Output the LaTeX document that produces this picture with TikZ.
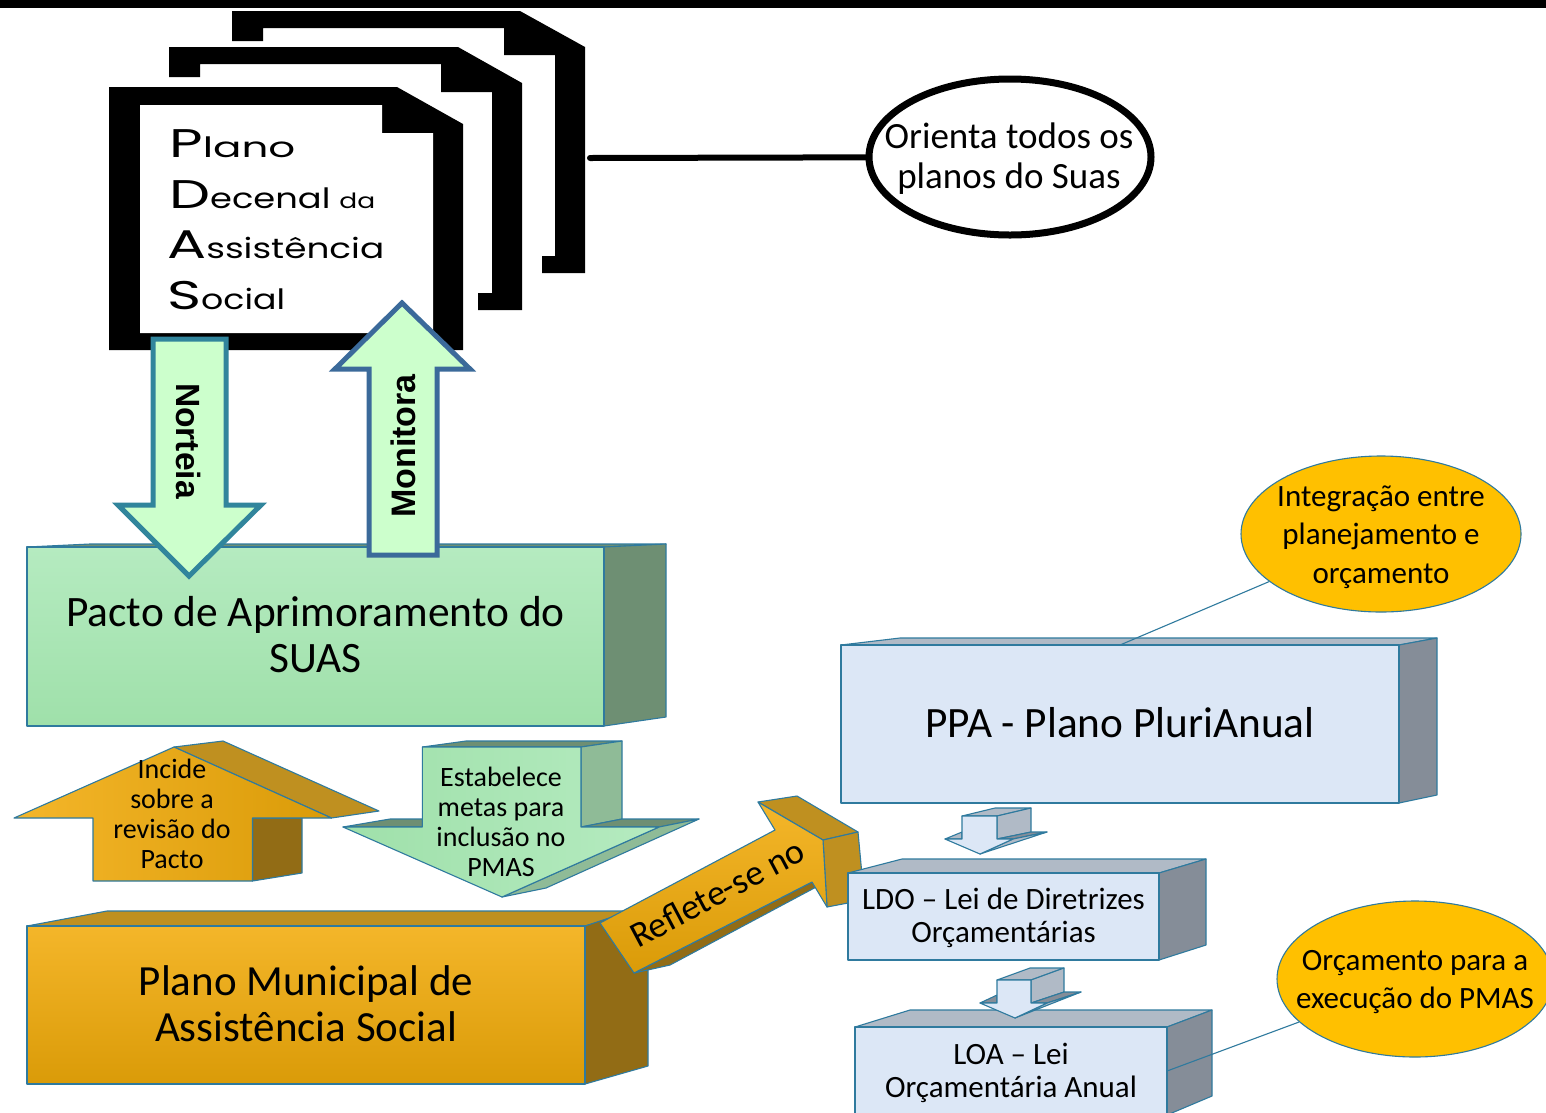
\documentclass[tikz,border=0pt]{standalone}
\usepackage{fontspec}
\usepackage{graphicx}
\setmainfont{Carlito}
\newfontfamily\docfont{Poppins}
\newfontfamily\armfont{Liberation Sans}
\usetikzlibrary{shapes.geometric}
\definecolor{edgeblue}{HTML}{2F7A9E}
\definecolor{armfill}{HTML}{CCFFCC}
\definecolor{armteal}{HTML}{31859C}
\definecolor{armblue}{HTML}{3B6A9A}
\definecolor{orangeT}{HTML}{F4B62A}
\definecolor{orangeB}{HTML}{DA9B08}
\definecolor{orangeTop}{HTML}{BF9020}
\definecolor{orangeSide}{HTML}{926C15}
\definecolor{greenT}{HTML}{B5EBC0}
\definecolor{greenB}{HTML}{9FE0AA}
\definecolor{greenTop}{HTML}{6E8F73}
\definecolor{greenSide}{HTML}{8FBB97}
\definecolor{blueFace}{HTML}{DCE7F6}
\definecolor{blueTop}{HTML}{B0BAC6}
\definecolor{blueSide}{HTML}{858D98}
\definecolor{gold}{HTML}{FFC000}
\newcommand{\capL}[1]{\scalebox{1.45}[1]{\fontsize{40}{40}\selectfont #1}}
\newcommand{\lowL}[2]{\scalebox{#1}[1]{\fontsize{28}{28}\selectfont #2}}
\tikzset{
  face/.style={draw=edgeblue,line width=1.1pt,line join=round},
  ofront/.style={face,top color=orangeT,bottom color=orangeB},
  ofrontH/.style={face,left color=orangeT,right color=orangeB},
  otop/.style={face,fill=orangeTop},
  oside/.style={face,fill=orangeSide},
  gfront/.style={face,top color=greenT,bottom color=greenB},
  gfrontH/.style={face,left color=greenB,right color=greenT},
  gtop/.style={face,fill=greenTop},
  gside/.style={face,fill=greenSide},
  bfront/.style={face,fill=blueFace},
  btop/.style={face,fill=blueTop},
  bside/.style={face,fill=blueSide},
  boxnode/.style={rectangle,inner sep=0pt,outer sep=0pt,align=center,text=black},
  sheet/.style={fill=black},
  bigarrow/.style={fill=armfill,line width=5pt,line join=miter,miter limit=10},
  doctext/.style={anchor=base west,inner sep=0pt,text=black,font=\docfont},
  label25/.style={align=center,inner sep=0pt,font=\fontsize{28}{30}\selectfont},
  noteell/.style={ellipse,draw=edgeblue,line width=1.1pt,fill=gold,inner sep=0pt},
  notetext/.style={align=center,inner sep=0pt,font=\fontsize{31}{38.5}\selectfont},
}
\begin{document}
\begin{tikzpicture}[x=1pt,y=-1pt]
\clip (0,0) rectangle (1546,1112);
\fill[white] (0,0) rectangle (1546,1112);
\fill[black] (0,0) rectangle (1546,8);

% stacked sheets
\fill[sheet] (232,11) -- (520,11) -- (585,47) -- (585,273) -- (542,273) -- (542,256) -- (555,256) -- (555,55) -- (504,55) -- (504,28) -- (263,28) -- (263,41) -- (232,41) -- cycle;
\fill[sheet] (169,47) -- (458,47) -- (522,83) -- (522,310) -- (478,310) -- (478,293) -- (492,293) -- (492,92) -- (441,92) -- (441,64) -- (200,64) -- (200,77) -- (169,77) -- cycle;
\fill[sheet] (109,87) -- (397,87) -- (463,124) -- (463,350) -- (109,350) -- cycle;
\fill[white] (140,105) -- (382,105) -- (382,133) -- (433,133) -- (433,333) -- (140,333) -- cycle;
\node[doctext] (plano) at (169,157) {\capL{P}\lowL{1.5}{lano}};
\node[doctext] (decenal) at (169,208) {\capL{D}\lowL{1.26}{ecenal}\hspace{9pt}\scalebox{1.26}[1]{\fontsize{21}{21}\selectfont da}};
\node[doctext] (assist) at (167,258) {\capL{A}\lowL{1.28}{ssistência}};
\node[doctext] (social) at (167,309) {\capL{S}\lowL{1.24}{ocial}};

% Orienta ellipse and its connector
\node[ellipse,draw=black,line width=7pt,fill=white,minimum width=282pt,minimum height=156pt,inner sep=0pt] (orienta) at (1010,157) {};
\node[align=center,inner sep=0pt,font=\fontsize{37}{40}\selectfont] (orientaText) at (1009,159) {Orienta todos os\\planos do Suas};
\coordinate (docEdge) at (590,158);
\draw[line width=6pt,line cap=round] (docEdge) -- (orienta);

% Pacto box
\path[gtop] (27,547) -- (90,544) -- (666,544) -- (604,547) -- cycle;
\path[face,fill=greenTop] (604,547) -- (666,544) -- (666,717) -- (604,726) -- cycle;
\node[boxnode,face,gfront,minimum width=577pt,minimum height=179pt] (pacto) at (315.5,636.5) {};
\node[align=center,inner sep=0pt,font=\fontsize{43.4}{46}\selectfont] (pactoText) at (315.5,634.5) {Pacto de Aprimoramento do\\SUAS};

% Norteia / Monitora
\path[bigarrow,draw=armteal] (153,339) -- (226,339) -- (226,505) -- (261,505) -- (189,576) -- (118,505) -- (153,505) -- cycle;
\node[rotate=-90,inner sep=0pt,font=\armfont\bfseries\fontsize{33.6}{33.6}\selectfont] (norteia) at (189,441) {Norteia};
\path[bigarrow,draw=armblue] (369,555) -- (369,369) -- (335,369) -- (402,303) -- (470,369) -- (437,369) -- (437,555) -- cycle;
\node[rotate=90,inner sep=0pt,font=\armfont\bfseries\fontsize{34}{34}\selectfont] (monitora) at (403,446) {Monitora};

% Incide arrow
\path[oside] (252.5,818) -- (302,818) -- (302,873) -- (252.5,881) -- cycle;
\path[otop] (174,747) -- (223,741) -- (379,811) -- (331.5,818) -- cycle;
\path[ofrontH] (174,747) -- (331.5,818) -- (252.5,818) -- (252.5,881) -- (93,881) -- (93,818) -- (14,818) -- cycle;
\node[label25] (incide) at (172,814) {Incide\\sobre a\\revisão do\\Pacto};

% Estabelece arrow
\path[gtop] (422.4,747) -- (466,741) -- (622,741) -- (581,747) -- cycle;
\path[gside] (581,747) -- (622,741) -- (622,819) -- (581,827) -- cycle;
\path[gtop] (343,827) -- (390,819) -- (422.4,819) -- (422.4,827) -- cycle;
\path[gtop] (581,827) -- (622,819) -- (699,819) -- (659,827) -- cycle;
\path[gside] (659,827) -- (699,819) -- (546,888) -- (502,897) -- cycle;
\path[gfrontH] (422.4,747) -- (581,747) -- (581,827) -- (659,827) -- (502,897) -- (343,827) -- (422.4,827) -- cycle;
\node[label25] (estabelece) at (501,822) {Estabelece\\metas para\\inclusão no\\PMAS};

% Plano Municipal box
\path[otop] (27,926) -- (107,911) -- (640,911) -- (585,926) -- cycle;
\path[oside] (585,926) -- (648,905) -- (648,1066) -- (585,1084) -- cycle;
\node[boxnode,face,ofront,minimum width=558pt,minimum height=158pt] (pmas) at (306,1005) {};
\node[align=center,inner sep=0pt,font=\fontsize{43}{46}\selectfont] (pmasText) at (306,1004) {Plano Municipal de\\Assistência Social};

% Reflete arrow
\path[oside] (634,973) -- (670,965) -- (818,886) -- (812,882) -- cycle;
\path[otop] (758,802) -- (797,796) -- (858,832) -- (823,840) -- cycle;
\path[otop] (823,840) -- (858,832) -- (862,875) -- (848,903) -- (827,907) -- cycle;
\path[ofront] (600,923) -- (775,830) -- (758,802) -- (823,840) -- (827,907) -- (812,882) -- (634,973) -- cycle;
\node[rotate=28,inner sep=0pt,font=\fontsize{36}{36}\selectfont] (reflete) at (717,893) {Reflete-se no};

% PPA
\path[btop] (841,645) -- (900,638) -- (1437,638) -- (1399,645) -- cycle;
\path[bside] (1399,645) -- (1437,638) -- (1437,795) -- (1399,803) -- cycle;
\node[boxnode,face,bfront,minimum width=558pt,minimum height=158pt] (ppa) at (1120,724) {};
\node[inner sep=0pt,font=\fontsize{43.3}{46}\selectfont] (ppaText) at (1120,723) {PPA - Plano PluriAnual};

% small arrow 1
\path[btop] (962,816) -- (995,808) -- (1031,808) -- (997,816) -- cycle;
\path[btop] (945,839) -- (962,832) -- (962,839) -- cycle;
\path[btop] (997,816) -- (1031,808) -- (1031,832) -- (997,839) -- cycle;
\path[bside] (997,839) -- (1031,832) -- (1047,832) -- (1013,839) -- cycle;
\path[btop] (1013,839) -- (1047,832) -- (980,854) -- cycle;
\path[bfront] (962,816) -- (997,816) -- (997,839) -- (1013,839) -- (980,854) -- (945,839) -- (962,839) -- cycle;

% LDO
\path[btop] (848,873) -- (902,859) -- (1206,859) -- (1159,873) -- cycle;
\path[bside] (1159,873) -- (1206,859) -- (1206,945) -- (1159,960) -- cycle;
\node[boxnode,face,bfront,minimum width=311pt,minimum height=87pt] (ldo) at (1003.5,916.5) {};
\node[align=center,inner sep=0pt,font=\fontsize{31}{33}\selectfont] (ldoText) at (1003.5,917.5) {LDO – Lei de Diretrizes\\Orçamentárias};

% LOA
\path[btop] (855,1027) -- (910,1010) -- (1212,1010) -- (1167,1027) -- cycle;
\path[bside] (1167,1027) -- (1212,1010) -- (1212,1096) -- (1167,1115) -- cycle;
\node[boxnode,face,bfront,minimum width=312pt,minimum height=88pt] (loa) at (1011,1071) {};
\node[align=center,inner sep=0pt,font=\fontsize{31}{33}\selectfont] (loaText) at (1011,1073) {LOA – Lei\\Orçamentária Anual};

% small arrow 2
\path[btop] (997,980) -- (1030,968) -- (1064,968) -- (1031,980) -- cycle;
\path[bside] (980,1003) -- (997,995) -- (997,1003) -- cycle;
\path[btop] (1031,980) -- (1064,968) -- (1064,992) -- (1031,1003) -- cycle;
\path[bside] (1031,1003) -- (1064,992) -- (1081,992) -- (1047,1003) -- cycle;
\path[btop] (1047,1003) -- (1081,992) -- (1015,1018) -- cycle;
\path[bfront] (997,980) -- (1031,980) -- (1031,1003) -- (1047,1003) -- (1015,1018) -- (980,1003) -- (997,1003) -- cycle;

% note ellipses and connectors
\node[noteell,minimum width=280pt,minimum height=156pt] (integracao) at (1381,534) {};
\node[notetext] (integracaoText) at (1381,537) {Integração entre\\planejamento e\\orçamento};
\node[noteell,minimum width=276pt,minimum height=156pt] (orcamento) at (1415,979) {};
\node[notetext] (orcamentoText) at (1415,982) {Orçamento para a\\execução do PMAS};
\coordinate (ppaEdge) at (1120,645);
\coordinate (loaEdge) at (1167,1071);
\draw[edgeblue,line width=1.1pt] (ppaEdge) -- (integracao);
\draw[edgeblue,line width=1.1pt] (loaEdge) -- (orcamento);
\end{tikzpicture}
\end{document}
